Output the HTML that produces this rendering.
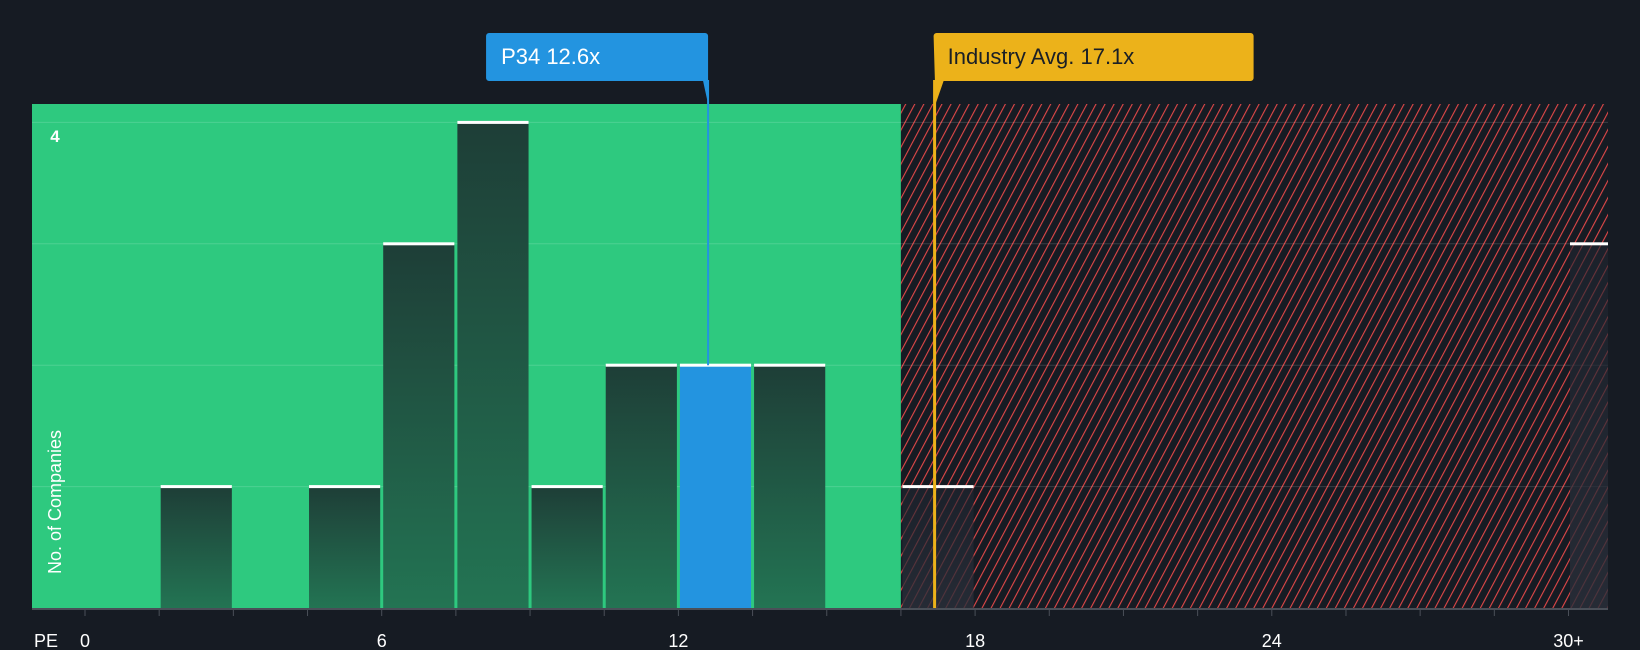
<!DOCTYPE html>
<html><head><meta charset="utf-8"><style>
html,body{margin:0;padding:0;background:#161b23;}
svg{display:block;font-family:"Liberation Sans",sans-serif;}
</style></head><body>
<svg id="chart" width="1640" height="650" viewBox="0 0 1640 650" xmlns="http://www.w3.org/2000/svg">
<defs>
<pattern id="hatch" patternUnits="userSpaceOnUse" width="8" height="8" patternTransform="rotate(28)">
<rect width="8" height="8" fill="#161b23"/>
<line x1="0" y1="0" x2="0" y2="8" stroke="#e04848" stroke-width="2.2"/>
</pattern>
<linearGradient id="barg" x1="0" y1="0" x2="0" y2="1">
<stop offset="0" stop-color="#1e3e37"/><stop offset="1" stop-color="#237453"/>
</linearGradient>
<linearGradient id="barh" x1="0" y1="0" x2="0" y2="1">
<stop offset="0" stop-color="#1f2530" stop-opacity="0.6"/><stop offset="1" stop-color="#2a2f3a" stop-opacity="0.8"/>
</linearGradient>
<clipPath id="pclip"><rect x="32" y="90" width="1576" height="530"/></clipPath>
</defs>
<g id="plot"></g>
</svg>
<script>
const binStarts = [1.5, 4.5, 6, 7.5, 9, 10.5, 12, 13.5, 16.5, 30];
const binCounts = [1, 1, 3, 4, 1, 2, 2, 2, 1, 3];
const tickValues = [0, 6, 12, 18, 24, 30];
const tickLabels = ["0", "6", "12", "18", "24", "30+"];
const companyPE = 12.6;
const industryPE = 17.1;
const binWidth = 1.5;
const fairLimit = 16.5;

const NS = "http://www.w3.org/2000/svg";
const g = document.getElementById("plot");
const L = 32, R = 1608, T = 104, B = 608;
const X = v => 85 + v * 49.45;
const Y = c => B - c * 121.4;
function mk(tag, attrs, parent) {
  const e = document.createElementNS(NS, tag);
  for (const k in attrs) e.setAttribute(k, attrs[k]);
  (parent || g).appendChild(e);
  return e;
}

const green = mk("rect", {x: L, y: T, width: X(fairLimit) - L, height: B - T, fill: "#2ec97f"});


const hatch = mk("rect", {x: X(fairLimit), y: T, width: R - X(fairLimit), height: B - T, fill: "url(#hatch)"});



for (let c = 1; c <= 4; c++) {
  const gl = mk("line", {x1: L, x2: R, y1: Y(c), y2: Y(c), stroke: "#ffffff", "stroke-opacity": 0.15, "stroke-width": 1});
  
  
}

const bars = mk("g", {"clip-path": "url(#pclip)"});


binStarts.forEach((s, i) => {
  const x1 = X(s) + 1.5, x2 = X(s + binWidth) - 1.5;
  const y = Y(binCounts[i]);
  let fill = "url(#barg)";
  if (companyPE >= s && companyPE < s + binWidth) fill = "#2394e0";
  else if (s >= fairLimit) fill = "url(#barh)";
  const b = mk("rect", {x: x1, y: y, width: x2 - x1, height: B - y, fill: fill}, bars);
  
  
  const cap = mk("rect", {x: x1, y: y - 1.5, width: x2 - x1, height: 3, fill: "#ffffff"}, bars);
  
  
});

const ax = mk("line", {x1: L, x2: R, y1: B + 1, y2: B + 1, stroke: "#4a4f58", "stroke-width": 2});


for (let v = 0; v <= 30.1; v += binWidth) {
  const t = mk("line", {x1: X(v), x2: X(v), y1: B, y2: B + 8, stroke: "#4a4f58", "stroke-width": 1});
  
  
}
tickValues.forEach((v, i) => {
  const t = mk("text", {x: X(v), y: 647, fill: "#ffffff", "font-size": 18, "text-anchor": "middle"});
  t.textContent = tickLabels[i];
  
  
});
const pe = mk("text", {x: 34, y: 647, fill: "#ffffff", "font-size": 18});
pe.textContent = "PE";



const four = mk("text", {x: 55, y: 142, fill: "#ffffff", "font-size": 17, "font-weight": "bold", "text-anchor": "middle"});
four.textContent = "4";


const yt = mk("text", {x: 0, y: 0, fill: "#ffffff", "font-size": 18, "text-anchor": "middle", transform: "translate(61,502) rotate(-90)"});
yt.textContent = "No. of Companies";



// company marker
const cx = X(companyPE);
const cl = mk("line", {x1: cx, x2: cx, y1: 80, y2: Y(2), stroke: "#2394e0", "stroke-width": 2});


const cb = mk("path", {d: `M${cx-222},36 a3,3 0 0 1 3,-3 H${cx-3} a3,3 0 0 1 3,3 V104 L${cx-5},81 H${cx-219} a3,3 0 0 1 -3,-3 Z`, fill: "#2394e0"});


const ct = mk("text", {x: cx - 207, y: 64, fill: "#ffffff", "font-size": 22});
ct.textContent = "P34 12.6x";



// industry marker
const ix = X(industryPE) + 4;
const il = mk("line", {x1: ix, x2: ix, y1: 80, y2: B, stroke: "#ecb21a", "stroke-width": 3});


const ib = mk("path", {d: `M${ix-1},36 a3,3 0 0 1 3,-3 H${ix+316} a3,3 0 0 1 3,3 V78 a3,3 0 0 1 -3,3 H${ix+9} L${ix+1},104 Z`, fill: "#ecb21a"});


const it = mk("text", {x: ix + 13, y: 64, fill: "#1a1f26", "font-size": 22});
it.textContent = "Industry Avg. 17.1x";


</script>
</body></html>
